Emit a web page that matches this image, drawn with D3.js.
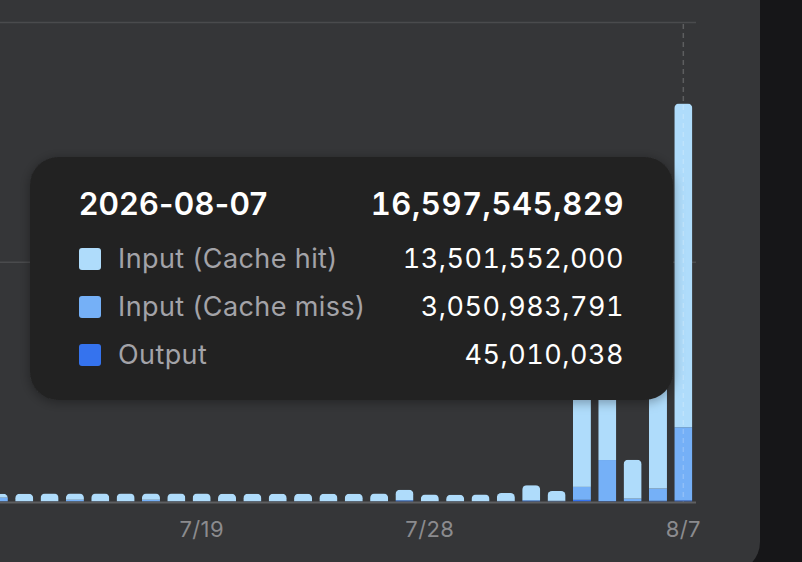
<!DOCTYPE html>
<html>
<head>
<meta charset="utf-8">
<script src="https://cdn.jsdelivr.net/npm/d3@7"></script>
<style>
  html, body { margin: 0; padding: 0; background: #161618; }
  svg { display: block; font-family: Inter, "Noto Sans", sans-serif; }
  .num { font-variant-numeric: tabular-nums; }
</style>
</head>
<body>
<div id="viz"></div>
<script>
var width = 802;
var height = 562;

// daily token usage, 7/9 .. 8/7
var days = ["7/9", "7/10", "7/11", "7/12", "7/13", "7/14", "7/15", "7/16", "7/17", "7/18",
	"7/19", "7/20", "7/21", "7/22", "7/23", "7/24", "7/25", "7/26", "7/27", "7/28",
	"7/29", "7/30", "7/31", "8/1", "8/2", "8/3", "8/4", "8/5", "8/6", "8/7"];
var cacheHit = [0.30e9, 0.30e9, 0.16e9, 0.31e9, 0.32e9, 0.26e9, 0.32e9, 0.32e9, 0.26e9, 0.32e9,
	0.32e9, 0.31e9, 0.31e9, 0.31e9, 0.31e9, 0.31e9, 0.31e9, 0.32e9, 0.43e9, 0.28e9,
	0.27e9, 0.28e9, 0.33e9, 0.62e9, 0.41e9, 7.60e9, 5.00e9, 1.62e9, 4.45e9, 13501552000];
var cacheMiss = [0.02e9, 0.02e9, 0.15e9, 0.01e9, 0.01e9, 0.07e9, 0.01e9, 0.01e9, 0.07e9, 0.01e9,
	0.01e9, 0.01e9, 0.01e9, 0.01e9, 0.01e9, 0.01e9, 0.01e9, 0.01e9, 0.02e9, 0.01e9,
	0.01e9, 0.01e9, 0.02e9, 0.03e9, 0.02e9, 0.54e9, 1.71e9, 0.11e9, 0.51e9, 3050983791];
var output = [0.002e9, 0.002e9, 0.01e9, 0.002e9, 0.002e9, 0.003e9, 0.002e9, 0.002e9, 0.003e9, 0.002e9,
	0.002e9, 0.002e9, 0.002e9, 0.002e9, 0.002e9, 0.002e9, 0.002e9, 0.002e9, 0.04e9, 0.002e9,
	0.002e9, 0.002e9, 0.004e9, 0.03e9, 0.01e9, 0.07e9, 0.02e9, 0.01e9, 0.03e9, 45010038];
var tickDays = ["7/19", "7/28", "8/7"];
var gridValues = [10e9, 20e9];

var seriesKeys = ["output", "miss", "hit"];
var seriesNames = { hit: "Input (Cache hit)", miss: "Input (Cache miss)", output: "Output" };
var color = d3.scaleOrdinal()
	.domain(["hit", "miss", "output"])
	.range(["#afdcfb", "#75b0f7", "#3573ee"]);

var focusIndex = 29;
var focusDate = "2026-08-07";

var rows = days.map(function(d, i) {
	return { day: d, hit: cacheHit[i], miss: cacheMiss[i], output: output[i] };
});

var x = d3.scaleBand()
	.domain(days)
	.range([-64.5, 696])
	.paddingInner(0.29)
	.paddingOuter(0.145);

var y = d3.scaleLinear()
	.domain([0, 20e9])
	.range([501.5, 22]);

var stack = d3.stack().keys(seriesKeys);
var layers = stack(rows);

var svg = d3.select("#viz").append("svg")
	.attr("width", width)
	.attr("height", height);

var defs = svg.append("defs");

var shadow = defs.append("filter")
	.attr("id", "shadow")
	.attr("x", "-10%").attr("y", "-20%")
	.attr("width", "120%").attr("height", "140%");
shadow.append("feDropShadow")
	.attr("dx", 0).attr("dy", 2)
	.attr("stdDeviation", 6)
	.attr("flood-color", "#000")
	.attr("flood-opacity", 0.35);

// card
svg.append("rect")
	.attr("x", -40)
	.attr("y", -40)
	.attr("width", 800)
	.attr("height", 612)
	.attr("rx", 30)
	.style("fill", "#353638");

// grid
svg.selectAll(".grid")
		.data(gridValues)
	.enter().append("line")
		.attr("class", "grid")
		.attr("x1", 0)
		.attr("x2", 696)
		.attr("y1", function(d) { return y(d) + 0.5; })
		.attr("y2", function(d) { return y(d) + 0.5; })
		.style("stroke", "#4a4b4d")
		.style("stroke-width", 1.5);

// rounded tops via a clip per bar
defs.selectAll(".barclip")
		.data(rows)
	.enter().append("clipPath")
		.attr("class", "barclip")
		.attr("id", function(d, i) { return "clip" + i; })
	.append("rect")
		.attr("x", function(d) { return x(d.day); })
		.attr("y", function(d) { return y(d.hit + d.miss + d.output); })
		.attr("width", x.bandwidth())
		.attr("height", function(d) { return y(0) - y(d.hit + d.miss + d.output) + 6; })
		.attr("rx", 4.5);

var bars = svg.selectAll(".bar")
		.data(rows)
	.enter().append("g")
		.attr("class", "bar")
		.attr("clip-path", function(d, i) { return "url(#clip" + i + ")"; });

bars.selectAll("rect")
		.data(function(d, i) {
			return layers.map(function(l) { return { key: l.key, seg: l[i], day: d.day }; });
		})
	.enter().append("rect")
		.attr("x", function(d) { return x(d.day); })
		.attr("y", function(d) { return y(d.seg[1]); })
		.attr("width", x.bandwidth())
		.attr("height", function(d) { return Math.max(0, y(d.seg[0]) - y(d.seg[1])); })
		.style("fill", function(d) { return color(d.key); });

// baseline
svg.append("line")
	.attr("x1", 0)
	.attr("x2", 696)
	.attr("y1", y(0) + 1)
	.attr("y2", y(0) + 1)
	.style("stroke", "#5e5f61")
	.style("stroke-width", 2);

// x labels
svg.selectAll(".tick")
		.data(tickDays)
	.enter().append("text")
		.attr("class", "tick")
		.attr("x", function(d) { return x(d) + x.bandwidth() / 2; })
		.attr("y", 537)
		.attr("text-anchor", "middle")
		.style("font-size", "22px")
		.style("letter-spacing", "0.4px")
		.style("fill", "#8b8b8e")
		.text(function(d) { return d; });

// hover line
var cx = x(days[focusIndex]) + x.bandwidth() / 2;
svg.append("line")
	.attr("x1", cx)
	.attr("x2", cx)
	.attr("y1", 24)
	.attr("y2", y(0))
	.style("stroke", "rgba(255,255,255,0.2)")
	.style("stroke-width", 1.5)
	.style("stroke-dasharray", "5,4");

// tooltip
var fmt = d3.format(",");
var f = rows[focusIndex];
var tip = svg.append("g").attr("transform", "translate(30,157)");

tip.append("rect")
	.attr("width", 643)
	.attr("height", 243)
	.attr("rx", 28)
	.style("fill", "#242424")
	.attr("filter", "url(#shadow)");

tip.append("text")
	.attr("x", 49)
	.attr("y", 58)
	.style("font-size", "31px")
	.style("font-weight", 600)
	.style("letter-spacing", "0.3px")
	.style("fill", "#fff")
	.text(focusDate);

tip.append("text")
	.attr("class", "num")
	.attr("x", 594)
	.attr("y", 58)
	.attr("text-anchor", "end")
	.style("font-size", "31px")
	.style("font-weight", 600)
	.style("letter-spacing", "0.55px")
	.style("fill", "#fff")
	.text(fmt(f.hit + f.miss + f.output));

var items = ["hit", "miss", "output"];
var item = tip.selectAll(".item")
		.data(items)
	.enter().append("g")
		.attr("class", "item")
		.attr("transform", function(d, i) { return "translate(0," + (110 + i * 48) + ")"; });

item.append("rect")
	.attr("x", 49)
	.attr("y", -19)
	.attr("width", 22)
	.attr("height", 22)
	.attr("rx", 3)
	.style("fill", function(d) { return color(d); });

item.append("text")
	.attr("x", 88)
	.attr("y", 1)
	.style("font-size", "27px")
	.style("letter-spacing", "0.4px")
	.style("fill", "#a3a3a8")
	.text(function(d) { return seriesNames[d]; });

item.append("text")
	.attr("class", "num")
	.attr("x", 594)
	.attr("y", 1)
	.attr("text-anchor", "end")
	.style("font-size", "27px")
	.style("letter-spacing", "0.5px")
	.style("fill", "#fff")
	.text(function(d) { return fmt(f[d]); });
</script>
</body>
</html>
